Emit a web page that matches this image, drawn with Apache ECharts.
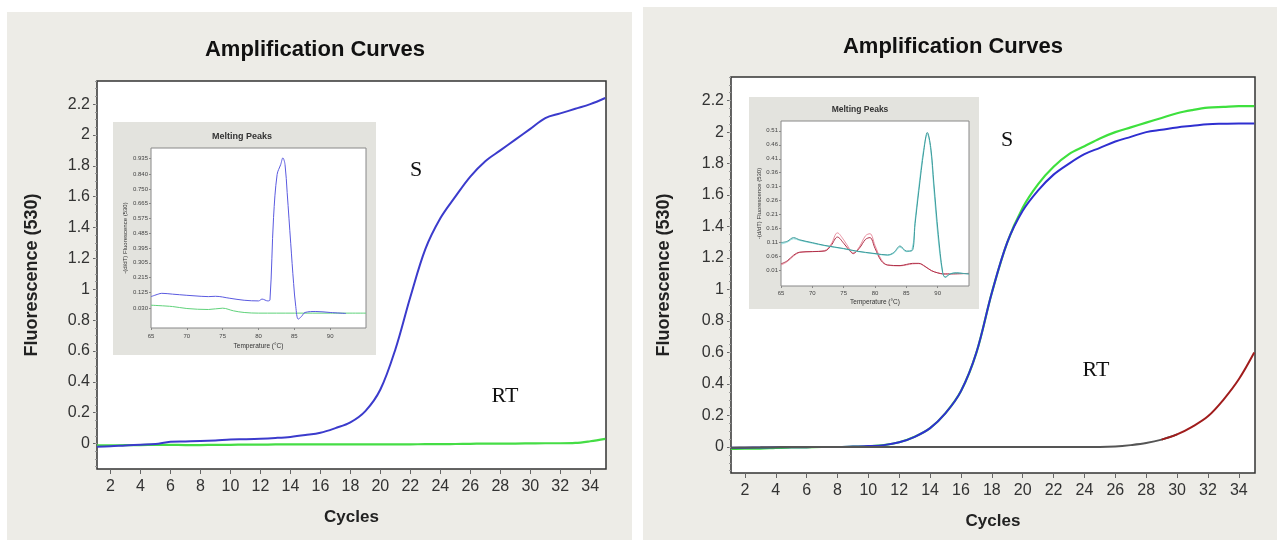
<!DOCTYPE html>
<html>
<head>
<meta charset="utf-8">
<script src="https://cdn.jsdelivr.net/npm/echarts@6/dist/echarts.min.js"></script>
<style>
  html, body { margin: 0; padding: 0; background: #fff; }
  #chart-container { width: 1277px; height: 540px; }
</style>
</head>
<body>
<div id="chart-container"></div>
<script>
// cycles and tick labels
var cycles = [1.1, 2, 3, 4, 5, 6, 7, 8, 9, 10, 11, 12, 13, 14, 15, 16, 17, 18, 19, 20,
  21, 22, 23, 24, 25, 26, 27, 28, 29, 30, 31, 32, 33, 34, 35];
var cycleTicks = [2, 4, 6, 8, 10, 12, 14, 16, 18, 20, 22, 24, 26, 28, 30, 32, 34];
var fluoTicks = [0, 0.2, 0.4, 0.6, 0.8, 1, 1.2, 1.4, 1.6, 1.8, 2, 2.2];

// left panel
var leftS = [-0.02, -0.018, -0.012, -0.008, -0.003, 0.012, 0.014, 0.016, 0.02, 0.026,
  0.028, 0.031, 0.036, 0.043, 0.055, 0.07, 0.1, 0.137, 0.21, 0.35,
  0.61, 0.95, 1.26, 1.46, 1.6, 1.73, 1.83, 1.9, 1.97, 2.04,
  2.11, 2.14, 2.17, 2.2, 2.24];
var leftRT = [-0.012, -0.012, -0.01, -0.01, -0.008, -0.008, -0.01, -0.01, -0.008, -0.008,
  -0.007, -0.007, -0.006, -0.006, -0.006, -0.005, -0.005, -0.005, -0.005, -0.005,
  -0.005, -0.005, -0.004, -0.004, -0.003, -0.002, 0, 0, 0, 0.001,
  0.002, 0.002, 0.004, 0.015, 0.03];

// right panel
var rightSgreen = [-0.012, -0.01, -0.01, -0.005, -0.003, -0.002, 0, 0, 0.002, 0.005,
  0.012, 0.03, 0.065, 0.12, 0.215, 0.355, 0.6, 0.98, 1.3, 1.52,
  1.67, 1.78, 1.86, 1.91, 1.96, 2.0, 2.03, 2.06, 2.09, 2.12,
  2.14, 2.155, 2.16, 2.165, 2.165];
var rightSblue = [-0.005, -0.004, -0.003, -0.002, -0.002, -0.001, 0, 0, 0.003, 0.006,
  0.012, 0.03, 0.065, 0.12, 0.215, 0.355, 0.6, 0.98, 1.3, 1.5,
  1.63, 1.73, 1.8, 1.86, 1.9, 1.94, 1.97, 2.0, 2.015, 2.03,
  2.04, 2.05, 2.053, 2.055, 2.055];
var rightRTgray = [-0.005, -0.003, -0.002, -0.001, 0, 0, 0, 0, 0, 0,
  0, 0, 0, 0, 0, 0, 0, 0, 0, 0,
  0, 0, 0, 0, 0, 0.003, 0.012, 0.025, 0.047, 0.08,
  null, null, null, null, null];
var rightRTred = [null, null, null, null, null, null, null, null, null, null,
  null, null, null, null, null, null, null, null, null, null,
  null, null, null, null, null, null, null, null, 0.047, 0.08,
  0.13, 0.195, 0.3, 0.43, 0.6];

// left inset (melting peaks)
var meltTempsL = [65, 66, 66.5, 68, 70, 71, 73, 74, 76, 78, 80, 80.5, 81.3, 81.6, 82.1, 82.6,
  83.1, 83.4, 83.7, 84.0, 84.5, 84.9, 85.2, 85.55, 86, 86.5, 88, 90, 92.2];
var meltSL = [0.1, 0.115, 0.12, 0.115, 0.108, 0.105, 0.1, 0.102, 0.09, 0.078, 0.074, 0.085, 0.074, 0.08, 0.58, 0.84,
  0.9, 0.94, 0.9, 0.73, 0.42, 0.18, 0.04, -0.036, -0.02, 0.004, 0.01, 0.004, -0.002];
var meltTempsL2 = [65, 68, 70, 73, 75, 76.5, 78, 80, 85, 90, 95];
var meltRTL = [0.048, 0.04, 0.028, 0.022, 0.03, 0.014, 0.004, 0, 0, 0, 0];
var meltTicksL = [0.030, 0.125, 0.215, 0.305, 0.395, 0.485, 0.575, 0.665, 0.750, 0.840, 0.935];

// right inset (melting peaks)
var meltTempsR = [65, 66, 67, 68, 70, 72, 75, 77, 80, 82, 83, 84, 85, 85.9, 86.4, 87, 87.8, 88.35,
  88.9, 89.4, 90.1, 90.8, 91.2, 92, 93, 94, 95];
var meltTealR = [0.11, 0.115, 0.128, 0.12, 0.11, 0.1, 0.089, 0.08, 0.071, 0.066, 0.075, 0.098, 0.08, 0.081, 0.178, 0.296, 0.44, 0.504,
  0.45, 0.32, 0.14, 0.004, -0.014, -0.002, 0.002, 0, -0.002];
var meltCyanR = [0.105, 0.112, 0.124, 0.118, 0.108, 0.099, 0.088, 0.079, 0.07, 0.065, 0.072, 0.094, 0.078, 0.085, 0.19, 0.31, 0.45, 0.498,
  0.44, 0.3, 0.12, 0.0, -0.012, -0.001, 0.002, 0, -0.002];
var meltTempsR2 = [65, 66, 67, 68, 70, 72, 73, 74, 75, 76, 76.5, 77.5, 78.5, 79.2, 80, 81, 82, 84, 85, 86,
  87, 88, 89, 90, 91, 95];
var meltRedR = [0.034, 0.045, 0.065, 0.076, 0.078, 0.08, 0.1, 0.13, 0.108, 0.08, 0.072, 0.09, 0.122, 0.128, 0.09, 0.045,
  0.03, 0.028, 0.032, 0.036, 0.036, 0.025, 0.01, 0.002, -0.002, 0];
var meltPinkR = [0.03, 0.042, 0.062, 0.075, 0.078, 0.082, 0.105, 0.145, 0.12, 0.085, 0.07, 0.095, 0.135, 0.142, 0.1, 0.05,
  0.03, 0.027, 0.03, 0.034, 0.035, 0.024, 0.01, 0.002, -0.002, 0];
var meltTicksR = [0.01, 0.06, 0.11, 0.16, 0.21, 0.26, 0.31, 0.36, 0.41, 0.46, 0.51];
var meltTempTicks = [65, 70, 75, 80, 85, 90];

function pairs(xs, ys) {
  return xs.map(function (x, i) { return [x, ys[i]]; });
}

var minorTicks = [];
for (var v = -0.15; v < 2.35; v += 0.05) minorTicks.push(Math.round(v * 100) / 100);

var numFont = "'Liberation Sans Narrow', 'Liberation Sans', Arial, sans-serif";
var boldFont = "'Liberation Sans', Arial, sans-serif";

function mainX(grid) {
  return {
    type: 'value', gridIndex: grid, min: 1.1, max: 35.05,
    name: 'Cycles', nameLocation: 'middle', nameGap: 40,
    nameTextStyle: { fontFamily: boldFont, fontWeight: 'bold', fontSize: 17, color: '#222' },
    axisLine: { show: false, onZero: false },
    axisTick: { show: true, length: 5, customValues: cycleTicks, lineStyle: { color: '#666' } },
    axisLabel: { customValues: cycleTicks, margin: 10, fontFamily: numFont, fontSize: 16, color: '#333' },
    splitLine: { show: false }
  };
}
function mainY(grid, gap) {
  return {
    type: 'value', gridIndex: grid, min: -0.165, max: 2.35, position: 'left',
    name: 'Fluorescence (530)', nameLocation: 'middle', nameGap: gap,
    nameTextStyle: { fontFamily: boldFont, fontWeight: 'bold', fontSize: 18, color: '#222' },
    axisLine: { show: false, onZero: false },
    axisTick: { show: true, length: 4, customValues: fluoTicks, lineStyle: { color: '#666' } },
    axisLabel: {
      customValues: fluoTicks, margin: 7, fontFamily: numFont, fontSize: 16, color: '#333',
      formatter: function (v) { return String(Math.round(v * 10) / 10); }
    },
    splitLine: { show: false }
  };
}
function minorY(grid) {
  return {
    type: 'value', gridIndex: grid, min: -0.165, max: 2.35, position: 'left',
    axisLine: { show: false, onZero: false },
    axisTick: { show: true, length: 2, customValues: minorTicks, lineStyle: { color: '#999' } },
    axisLabel: { show: false },
    splitLine: { show: false }
  };
}
function insetX(grid, gap, margin) {
  return {
    type: 'value', gridIndex: grid, min: 65, max: 95, z: 6,
    name: 'Temperature (°C)', nameLocation: 'middle', nameGap: gap,
    nameTextStyle: { fontSize: 6.5, color: '#333' },
    axisLine: { show: false, onZero: false },
    axisTick: { show: true, length: 2, customValues: meltTempTicks, lineStyle: { color: '#888' } },
    axisLabel: { customValues: meltTempTicks, margin: margin, fontSize: 6, color: '#444' },
    splitLine: { show: false }
  };
}
function insetY(grid, min, max, ticks, digits, gap) {
  return {
    type: 'value', gridIndex: grid, min: min, max: max, z: 6, position: 'left',
    name: '-(d/dT) Fluorescence (530)', nameLocation: 'middle', nameGap: gap,
    nameTextStyle: { fontSize: 6, color: '#333' },
    axisLine: { show: false, onZero: false },
    axisTick: { show: true, length: 2, customValues: ticks, lineStyle: { color: '#888' } },
    axisLabel: {
      customValues: ticks, margin: 3, fontSize: 6, color: '#444',
      formatter: function (v) { return v.toFixed(digits); }
    },
    splitLine: { show: false }
  };
}
function line(name, x, y, data, color, width, z) {
  return {
    name: name, type: 'line', xAxisIndex: x, yAxisIndex: y, data: data,
    showSymbol: false, symbol: 'none', smooth: 0.35, z: z || 2,
    lineStyle: { color: color, width: width }
  };
}

var dom = document.getElementById('chart-container');
var myChart = echarts.init(dom, null, { renderer: 'canvas' });

var option = {
  backgroundColor: '#ffffff',
  animation: false,
  graphic: [
    { type: 'rect', z: -10, shape: { x: 7, y: 12, width: 625, height: 528 }, style: { fill: '#edece7' } },
    { type: 'rect', z: -10, shape: { x: 643, y: 7, width: 634, height: 533 }, style: { fill: '#edece7' } },
    { type: 'rect', z: 1, shape: { x: 113, y: 122, width: 263, height: 233 }, style: { fill: '#e3e3de' } },
    { type: 'rect', z: 1, shape: { x: 749, y: 97, width: 230, height: 212 }, style: { fill: '#e3e3de' } },
    { type: 'text', z: 5, x: 315, y: 50, style: { text: 'Amplification Curves', fontFamily: boldFont, fontWeight: 'bold', fontSize: 22, fill: '#111', align: 'center', verticalAlign: 'middle' } },
    { type: 'text', z: 5, x: 953, y: 47, style: { text: 'Amplification Curves', fontFamily: boldFont, fontWeight: 'bold', fontSize: 22, fill: '#111', align: 'center', verticalAlign: 'middle' } },
    { type: 'text', z: 5, x: 242, y: 137, style: { text: 'Melting Peaks', fontFamily: boldFont, fontWeight: 'bold', fontSize: 9, fill: '#333', align: 'center', verticalAlign: 'middle' } },
    { type: 'text', z: 5, x: 860, y: 110, style: { text: 'Melting Peaks', fontFamily: boldFont, fontWeight: 'bold', fontSize: 8.5, fill: '#333', align: 'center', verticalAlign: 'middle' } },
    { type: 'text', z: 5, x: 416, y: 170, style: { text: 'S', fontFamily: "'Liberation Serif', serif", fontSize: 22, fill: '#111', align: 'center', verticalAlign: 'middle' } },
    { type: 'text', z: 5, x: 505, y: 396, style: { text: 'RT', fontFamily: "'Liberation Serif', serif", fontSize: 22, fill: '#111', align: 'center', verticalAlign: 'middle' } },
    { type: 'text', z: 5, x: 1007, y: 140, style: { text: 'S', fontFamily: "'Liberation Serif', serif", fontSize: 22, fill: '#111', align: 'center', verticalAlign: 'middle' } },
    { type: 'text', z: 5, x: 1096, y: 370, style: { text: 'RT', fontFamily: "'Liberation Serif', serif", fontSize: 22, fill: '#111', align: 'center', verticalAlign: 'middle' } }
  ],
  grid: [
    { left: 97, top: 81, width: 509, height: 388, show: true, backgroundColor: '#fff', borderColor: '#333', borderWidth: 1.5, z: 0 },
    { left: 731, top: 77, width: 524, height: 396, show: true, backgroundColor: '#fff', borderColor: '#333', borderWidth: 1.5, z: 0 },
    { left: 151, top: 148, width: 215, height: 180, show: true, backgroundColor: '#fff', borderColor: '#888', borderWidth: 1, z: 3 },
    { left: 781, top: 121, width: 188, height: 165, show: true, backgroundColor: '#fff', borderColor: '#888', borderWidth: 1, z: 3 }
  ],
  xAxis: [
    mainX(0),
    mainX(1),
    insetX(2, 15, 5),
    insetX(3, 13, 4)
  ],
  yAxis: [
    mainY(0, 56),
    mainY(1, 58),
    insetY(2, -0.09, 1.0, meltTicksL, 3, 23),
    insetY(3, -0.045, 0.545, meltTicksR, 2, 19),
    minorY(0),
    minorY(1)
  ],
  series: [
    line('RT', 0, 0, pairs(cycles, leftRT), '#45dd45', 2.2),
    line('S', 0, 0, pairs(cycles, leftS), '#3b3bcc', 2),
    line('S green', 1, 1, pairs(cycles, rightSgreen), '#3ee03e', 2.2),
    line('S blue', 1, 1, pairs(cycles, rightSblue), '#2f2fd0', 2),
    line('RT gray', 1, 1, pairs(cycles, rightRTgray), '#555555', 2),
    line('RT red', 1, 1, pairs(cycles, rightRTred), '#a01c1c', 2),
    line('melt RT L', 2, 2, pairs(meltTempsL2, meltRTL), '#5fd27a', 1, 8),
    line('melt S L', 2, 2, pairs(meltTempsL, meltSL), '#5a5ae0', 1, 8),
    line('melt pink R', 3, 3, pairs(meltTempsR2, meltPinkR), '#ea8fa0', 1, 8),
    line('melt red R', 3, 3, pairs(meltTempsR2, meltRedR), '#b03048', 1, 8),
    line('melt cyan R', 3, 3, pairs(meltTempsR, meltCyanR), '#86dada', 1, 8),
    line('melt teal R', 3, 3, pairs(meltTempsR, meltTealR), '#3d9a9a', 1, 8)
  ]
};

myChart.setOption(option);
window.addEventListener('resize', myChart.resize);
</script>
</body>
</html>
